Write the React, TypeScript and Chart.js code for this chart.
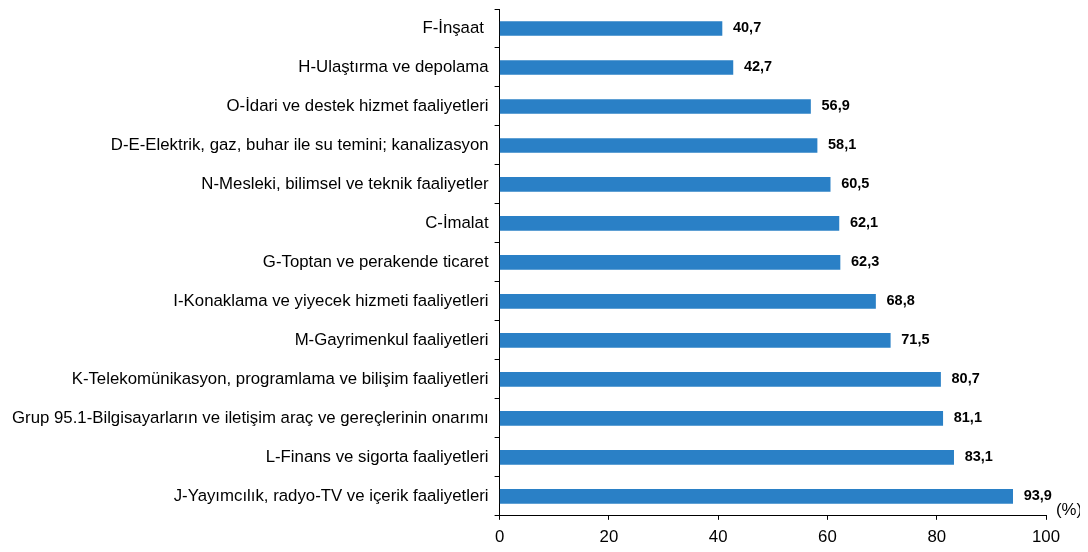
import React, { useRef, useEffect } from 'react';
import { Chart, registerables } from 'chart.js';

Chart.register(...registerables);

const categories = [
  'F-İnşaat ',
  'H-Ulaştırma ve depolama',
  'O-İdari ve destek hizmet faaliyetleri',
  'D-E-Elektrik, gaz, buhar ile su temini; kanalizasyon',
  'N-Mesleki, bilimsel ve teknik faaliyetler',
  'C-İmalat',
  'G-Toptan ve perakende ticaret',
  'I-Konaklama ve yiyecek hizmeti faaliyetleri',
  'M-Gayrimenkul faaliyetleri',
  'K-Telekomünikasyon, programlama ve bilişim faaliyetleri',
  'Grup 95.1-Bilgisayarların ve iletişim araç ve gereçlerinin onarımı',
  'L-Finans ve sigorta faaliyetleri',
  'J-Yayımcılık, radyo-TV ve içerik faaliyetleri',
];

const values = [40.7, 42.7, 56.9, 58.1, 60.5, 62.1, 62.3, 68.8, 71.5, 80.7, 81.1, 83.1, 93.9];

const xTicks = [0, 20, 40, 60, 80, 100];
const unitLabel = '(%)';

const FONT = '"Liberation Sans", Arial, sans-serif';

const App: React.FC = () => {
  const canvasRef = useRef<HTMLCanvasElement>(null);

  useEffect(() => {
    if (!canvasRef.current) return;
    const chart = new Chart(canvasRef.current, {
      type: 'bar',
      data: {
        labels: categories,
        datasets: [
          {
            data: values,
            backgroundColor: '#2A80C6',
            barThickness: 14,
          },
        ],
      },
      options: {
        indexAxis: 'y',
        animation: false,
        responsive: true,
        maintainAspectRatio: false,
        layout: { padding: { top: 1, right: 34, left: -2, bottom: 0 } },
        plugins: {
          legend: { display: false },
          tooltip: { enabled: false },
        },
        scales: {
          x: {
            min: 0,
            max: 100,
            afterBuildTicks: (axis) => {
              axis.ticks = xTicks.map((v) => ({ value: v }));
            },
            border: { color: '#000', width: 1 },
            grid: { drawOnChartArea: false, color: '#000', tickLength: 4 },
            ticks: { color: '#000', font: { family: FONT, size: 16.8 }, padding: 7, maxRotation: 0 },
          },
          y: {
            // category labels sit inside their bands, so no extra top/bottom room is needed
            afterFit: (axis: any) => {
              axis.paddingTop = 0;
              axis.paddingBottom = 0;
            },
            border: { color: '#000', width: 1 },
            grid: { drawOnChartArea: false, color: '#000', tickLength: 5, offset: true },
            ticks: { color: '#000', font: { family: FONT, size: 16.8 }, padding: 6, autoSkip: false },
          },
        },
      },
      plugins: [
        {
          id: 'valueLabels',
          afterDatasetsDraw: (c) => {
            const ctx = c.ctx;
            const meta = c.getDatasetMeta(0);
            ctx.save();
            ctx.font = `bold 14.5px ${FONT}`;
            ctx.fillStyle = '#000';
            ctx.textAlign = 'left';
            ctx.textBaseline = 'middle';
            meta.data.forEach((bar: any, i: number) => {
              ctx.fillText(values[i].toFixed(1).replace('.', ','), bar.x + 11, bar.y);
            });
            ctx.font = `16.8px ${FONT}`;
            ctx.fillText(unitLabel, c.chartArea.right + 10, c.chartArea.bottom - 5);
            ctx.restore();
          },
        },
      ],
    });
    return () => chart.destroy();
  }, []);

  return (
    <div style={{ width: 1072, height: 546, marginBottom: -10, position: 'relative' }}>
      <canvas ref={canvasRef}></canvas>
    </div>
  );
};

export default App;
